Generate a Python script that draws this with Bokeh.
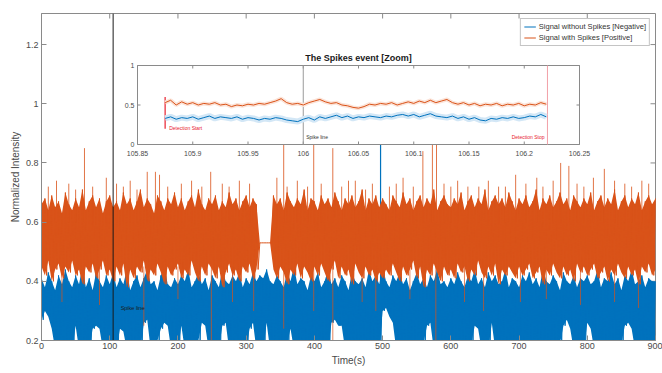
from bokeh.plotting import figure
from bokeh.models import Range1d, Legend, LegendItem, FixedTicker, PrintfTickFormatter
from bokeh.core.properties import value
from bokeh.embed import file_html
from bokeh.resources import INLINE

FONT = "Liberation Sans"
BLUE = "#0072BD"
ORANGE = "#D95319"
RED = "#E8202F"
AXC = "#8a8a8a"
TXC = "#4a4a4a"

# ---------------- main data (5 s bins: upper / lower envelope)
bin_s = 5
time_s = [i * bin_s for i in range(181)]

orange_hi = [
    0.66, 0.68, 0.64, 0.69, 0.65, 0.67, 0.63, 0.70, 0.66, 0.64, 0.68, 0.65, 0.71, 0.64, 0.67, 0.69, 0.65, 0.68, 0.63, 0.67,
    0.69, 0.65, 0.67, 0.64, 0.70, 0.66, 0.68, 0.64, 0.67, 0.71, 0.65, 0.68, 0.66, 0.63, 0.69, 0.67, 0.64, 0.68, 0.66, 0.70,
    0.65, 0.68, 0.64, 0.67, 0.69, 0.65, 0.71, 0.66, 0.64, 0.68, 0.66, 0.69, 0.64, 0.67, 0.65, 0.70, 0.66, 0.68, 0.64, 0.67,
    0.69, 0.65, 0.68, 0.66, 0.53, 0.53, 0.53, 0.53, 0.69, 0.66, 0.68, 0.64, 0.70, 0.67, 0.65, 0.68, 0.66, 0.71, 0.64, 0.68,
    0.67, 0.64, 0.69, 0.66, 0.68, 0.65, 0.70, 0.67, 0.64, 0.68, 0.66, 0.69, 0.65, 0.67, 0.71, 0.64, 0.68, 0.66, 0.69, 0.65,
    0.68, 0.66, 0.64, 0.69, 0.67, 0.65, 0.70, 0.66, 0.68, 0.64, 0.67, 0.69, 0.65, 0.68, 0.66, 0.71, 0.64, 0.67, 0.69, 0.66,
    0.65, 0.68, 0.66, 0.70, 0.64, 0.67, 0.69, 0.65, 0.68, 0.66, 0.71, 0.64, 0.67, 0.69, 0.66, 0.68, 0.65, 0.70, 0.67, 0.64,
    0.68, 0.66, 0.69, 0.65, 0.67, 0.71, 0.64, 0.68, 0.66, 0.69, 0.65, 0.67, 0.70, 0.66, 0.68, 0.64, 0.69, 0.67, 0.65, 0.68,
    0.66, 0.70, 0.64, 0.67, 0.69, 0.65, 0.68, 0.66, 0.71, 0.64, 0.67, 0.69, 0.65, 0.68, 0.66, 0.70, 0.64, 0.67, 0.69, 0.66,
    0.68,
]
orange_lo = [
    0.45, 0.42, 0.47, 0.40, 0.44, 0.46, 0.41, 0.45, 0.43, 0.47, 0.42, 0.44, 0.39, 0.45, 0.43, 0.46, 0.41, 0.44, 0.47, 0.42,
    0.44, 0.40, 0.45, 0.42, 0.46, 0.38, 0.44, 0.41, 0.45, 0.43, 0.47, 0.40, 0.44, 0.42, 0.46, 0.43, 0.39, 0.45, 0.42, 0.44,
    0.46, 0.41, 0.44, 0.42, 0.47, 0.43, 0.40, 0.45, 0.42, 0.46, 0.44, 0.41, 0.45, 0.38, 0.43, 0.46, 0.42, 0.44, 0.40, 0.45,
    0.43, 0.46, 0.41, 0.44, 0.53, 0.53, 0.53, 0.53, 0.44, 0.41, 0.45, 0.43, 0.39, 0.44, 0.42, 0.46, 0.41, 0.45, 0.43, 0.40,
    0.45, 0.42, 0.46, 0.43, 0.40, 0.44, 0.47, 0.41, 0.45, 0.42, 0.44, 0.39, 0.46, 0.43, 0.41, 0.45, 0.42, 0.44, 0.40, 0.43,
    0.41, 0.44, 0.42, 0.46, 0.43, 0.40, 0.45, 0.42, 0.44, 0.47, 0.41, 0.45, 0.38, 0.44, 0.42, 0.46, 0.43, 0.40, 0.45, 0.42,
    0.44, 0.41, 0.46, 0.43, 0.45, 0.40, 0.44, 0.42, 0.47, 0.43, 0.41, 0.45, 0.42, 0.46, 0.39, 0.44, 0.42, 0.45, 0.43, 0.41,
    0.45, 0.42, 0.44, 0.46, 0.41, 0.43, 0.45, 0.39, 0.44, 0.42, 0.46, 0.43, 0.41, 0.45, 0.42, 0.44, 0.40, 0.46, 0.43, 0.45,
    0.42, 0.44, 0.46, 0.41, 0.43, 0.45, 0.40, 0.44, 0.42, 0.46, 0.43, 0.41, 0.45, 0.42, 0.44, 0.39, 0.45, 0.43, 0.46, 0.42,
    0.44,
]
blue_hi = [
    0.41, 0.38, 0.43, 0.40, 0.37, 0.42, 0.39, 0.44, 0.40, 0.38, 0.42, 0.39, 0.45, 0.38, 0.41, 0.37, 0.43, 0.40, 0.38, 0.42,
    0.39, 0.43, 0.38, 0.41, 0.39, 0.44, 0.37, 0.40, 0.42, 0.38, 0.41, 0.44, 0.39, 0.40, 0.37, 0.42, 0.45, 0.39, 0.38, 0.41,
    0.39, 0.42, 0.40, 0.44, 0.38, 0.40, 0.43, 0.39, 0.41, 0.37, 0.42, 0.40, 0.38, 0.44, 0.40, 0.39, 0.42, 0.40, 0.43, 0.38,
    0.41, 0.39, 0.43, 0.40, 0.42, 0.41, 0.44, 0.40, 0.39, 0.42, 0.40, 0.38, 0.43, 0.40, 0.45, 0.39, 0.41, 0.40, 0.37, 0.42,
    0.40, 0.43, 0.38, 0.40, 0.44, 0.39, 0.41, 0.38, 0.42, 0.40, 0.37, 0.43, 0.40, 0.39, 0.41, 0.38, 0.44, 0.40, 0.42, 0.39,
    0.45, 0.40, 0.38, 0.42, 0.40, 0.43, 0.39, 0.41, 0.37, 0.40, 0.43, 0.39, 0.41, 0.38, 0.42, 0.40, 0.44, 0.39, 0.40, 0.38,
    0.41, 0.39, 0.43, 0.40, 0.38, 0.42, 0.40, 0.44, 0.39, 0.41, 0.38, 0.43, 0.40, 0.42, 0.39, 0.40, 0.44, 0.38, 0.41, 0.40,
    0.38, 0.42, 0.40, 0.43, 0.39, 0.41, 0.38, 0.44, 0.40, 0.39, 0.42, 0.40, 0.37, 0.43, 0.40, 0.39, 0.42, 0.38, 0.41, 0.40,
    0.42, 0.39, 0.40, 0.44, 0.38, 0.41, 0.40, 0.43, 0.39, 0.41, 0.37, 0.42, 0.40, 0.44, 0.39, 0.40, 0.42, 0.38, 0.41, 0.40,
    0.40,
]
blue_lo = [
    0.27, 0.30, 0.28, 0.24, 0.17, 0.19, 0.17, 0.17, 0.20, 0.17, 0.25, 0.17, 0.17, 0.19, 0.17, 0.24, 0.25, 0.24, 0.17, 0.17,
    0.20, 0.17, 0.17, 0.24, 0.23, 0.17, 0.17, 0.19, 0.17, 0.17, 0.26, 0.27, 0.17, 0.17, 0.20, 0.24, 0.26, 0.25, 0.17, 0.17,
    0.17, 0.25, 0.17, 0.19, 0.17, 0.17, 0.20, 0.26, 0.25, 0.17, 0.17, 0.19, 0.17, 0.25, 0.26, 0.17, 0.17, 0.20, 0.17, 0.17,
    0.17, 0.24, 0.26, 0.17, 0.19, 0.17, 0.26, 0.17, 0.17, 0.20, 0.17, 0.17, 0.19, 0.24, 0.17, 0.17, 0.20, 0.17, 0.17, 0.19,
    0.17, 0.17, 0.20, 0.17, 0.17, 0.26, 0.27, 0.25, 0.25, 0.17, 0.17, 0.19, 0.17, 0.17, 0.20, 0.17, 0.17, 0.19, 0.17, 0.17,
    0.30, 0.31, 0.28, 0.26, 0.17, 0.17, 0.19, 0.17, 0.17, 0.20, 0.17, 0.17, 0.19, 0.25, 0.26, 0.17, 0.17, 0.20, 0.17, 0.17,
    0.19, 0.17, 0.17, 0.20, 0.17, 0.17, 0.19, 0.25, 0.24, 0.17, 0.17, 0.17, 0.26, 0.17, 0.19, 0.17, 0.17, 0.20, 0.17, 0.17,
    0.19, 0.17, 0.17, 0.20, 0.17, 0.17, 0.19, 0.17, 0.17, 0.20, 0.17, 0.17, 0.19, 0.25, 0.27, 0.24, 0.17, 0.17, 0.20, 0.17,
    0.26, 0.24, 0.17, 0.17, 0.19, 0.17, 0.17, 0.20, 0.17, 0.17, 0.19, 0.25, 0.26, 0.24, 0.17, 0.17, 0.20, 0.17, 0.17, 0.19,
    0.17,
]

# isolated spikes (time, extreme value)
orange_up_t = [10, 22, 40, 50, 63, 75, 95, 110, 120, 130, 140, 155, 167, 173, 185, 205, 220, 235, 248, 265, 275, 290,
               305, 345, 355, 360, 375, 390, 399, 410, 427, 440, 450, 460, 475, 485, 510, 520, 530, 545, 559, 573,
               579, 590, 600, 610, 625, 641, 655, 670, 680, 695, 710, 726, 735, 750, 761, 773, 785, 795, 809, 825,
               840, 855, 865, 880, 890]
orange_up_v = [0.72, 0.74, 0.73, 0.71, 0.85, 0.72, 0.75, 0.73, 0.72, 0.74, 0.71, 0.77, 0.77, 0.76, 0.72, 0.73, 0.74, 0.72, 0.77, 0.73, 0.72, 0.74,
               0.73, 0.75, 0.95, 0.72, 0.74, 0.72, 0.95, 0.73, 0.85, 0.72, 0.74, 0.74, 0.71, 0.73, 0.72, 0.73, 0.75, 0.72, 0.84, 0.95,
               0.95, 0.73, 0.72, 0.74, 0.72, 0.72, 0.74, 0.72, 0.72, 0.76, 0.73, 0.75, 0.72, 0.74, 0.80, 0.79, 0.73, 0.72, 0.75, 0.78,
               0.74, 0.73, 0.72, 0.74, 0.73]
orange_dn_t = [30, 85, 150, 200, 249, 280, 311, 355, 399, 427, 470, 490, 540, 578, 620, 648, 702, 740, 790, 840, 875]
orange_dn_v = [0.33, 0.32, 0.25, 0.34, 0.20, 0.33, 0.30, 0.24, 0.30, 0.20, 0.33, 0.30, 0.34, 0.18, 0.33, 0.30, 0.33, 0.34, 0.32, 0.33, 0.31]
blue_up_t = [497]
blue_up_v = [0.95]
spike_time = 105

x_ticks = [0, 100, 200, 300, 400, 500, 600, 700, 800, 900]
y_ticks = [0.2, 0.4, 0.6, 0.8, 1.0, 1.2]

# ---------------- inset (zoom) data
zoom_t0, zoom_dt = 105.875, 0.005
zoom_red = [
    0.53, 0.56, 0.50, 0.54, 0.51, 0.53, 0.50, 0.52, 0.51, 0.53,
    0.50, 0.51, 0.48, 0.50, 0.49, 0.51, 0.50, 0.52, 0.51, 0.53,
    0.55, 0.58, 0.53, 0.51, 0.52, 0.50, 0.53, 0.55, 0.57, 0.54,
    0.52, 0.53, 0.50, 0.49, 0.47, 0.46, 0.48, 0.51, 0.50, 0.52,
    0.51, 0.53, 0.50, 0.52, 0.54, 0.52, 0.55, 0.53, 0.56, 0.53,
    0.55, 0.57, 0.53, 0.51, 0.53, 0.50, 0.52, 0.49, 0.51, 0.50,
    0.52, 0.49, 0.51, 0.50, 0.52, 0.49, 0.51, 0.50, 0.53, 0.51,
]
zoom_blue = [
    0.33, 0.35, 0.32, 0.34, 0.33, 0.35, 0.32, 0.34, 0.36, 0.33,
    0.35, 0.34, 0.33, 0.35, 0.32, 0.34, 0.33, 0.31, 0.33, 0.32,
    0.34, 0.33, 0.31, 0.30, 0.29, 0.32, 0.34, 0.31, 0.35, 0.33,
    0.35, 0.37, 0.34, 0.36, 0.33, 0.35, 0.34, 0.36, 0.35, 0.34,
    0.36, 0.35, 0.37, 0.38, 0.36, 0.38, 0.35, 0.37, 0.39, 0.36,
    0.35, 0.34, 0.36, 0.33, 0.35, 0.32, 0.34, 0.31, 0.30, 0.33,
    0.32, 0.34, 0.33, 0.35, 0.33, 0.34, 0.36, 0.35, 0.38, 0.35,
]
zoom_t = [round(zoom_t0 + i * zoom_dt, 4) for i in range(len(zoom_red))]
zoom_xlim = (105.85, 106.25)
zoom_ylim = (0.0, 1.0)
zoom_xticks = [105.85, 105.9, 105.95, 106.0, 106.05, 106.1, 106.15, 106.2, 106.25]
zoom_xlabels = ["105.85", "105.9", "105.95", "106", "106.05", "106.1", "106.15", "106.2", "106.25"]
zoom_yticks = [0.0, 0.5, 1.0]
zoom_ylabels = ["0", "0.5", "1"]
det_start, det_stop, spike_line = 105.875, 106.221, 106.0

# ---------------- layout constants (pixels)
W, H = 662, 373
B_L, B_R, B_T, B_B = 41, 7, 13, 33
FW = W - B_L - B_R
FH = H - B_T - B_B
Y0, Y1 = 0.2, 1.305
# inset box position inside the frame (pixels from frame left / top)
IN_L, IN_R, IN_T, IN_B = 96, 538, 52, 131

p = figure(width=W, height=H, x_range=Range1d(0, 900), y_range=Range1d(Y0, Y1),
           output_backend="svg", toolbar_location=None,
           min_border_left=B_L, min_border_right=B_R, min_border_top=B_T, min_border_bottom=B_B)
p.xgrid.visible = False
p.ygrid.visible = False
p.outline_line_color = AXC
p.background_fill_color = "white"
p.border_fill_color = "white"

for ax in (p.xaxis[0], p.yaxis[0]):
    ax.axis_line_color = AXC
    ax.major_tick_line_color = AXC
    ax.major_tick_in = 5
    ax.major_tick_out = 0
    ax.minor_tick_line_color = None
    ax.major_label_text_font = FONT
    ax.major_label_text_font_size = "9px"
    ax.major_label_text_color = TXC
    ax.axis_label_text_font = FONT
    ax.axis_label_text_font_size = "10px"
    ax.axis_label_text_font_style = "normal"
    ax.axis_label_text_color = TXC
p.xaxis.ticker = FixedTicker(ticks=x_ticks)
p.yaxis.ticker = FixedTicker(ticks=y_ticks)
p.yaxis.formatter = PrintfTickFormatter(format="%g")
p.xaxis.axis_label = "Time(s)"
p.yaxis.axis_label = "Normalized Intensity"
p.xaxis.major_label_standoff = 2
p.xaxis.axis_label_standoff = 3
p.yaxis.major_label_standoff = 3
p.yaxis.axis_label_standoff = 2

# top / right tick marks (MATLAB box)
tlen_y = 5 * (Y1 - Y0) / FH
tlen_x = 5 * 900 / FW
p.segment(x0=x_ticks, x1=x_ticks, y0=[Y1] * len(x_ticks), y1=[Y1 - tlen_y] * len(x_ticks), line_color=AXC, line_width=1)
p.segment(x0=[900] * len(y_ticks), x1=[900 - tlen_x] * len(y_ticks), y0=y_ticks, y1=y_ticks, line_color=AXC, line_width=1)

def zigzag(t, hi, lo):
    xs, ys = [], []
    for ti, h, l in zip(t, hi, lo):
        xs += [ti, ti + bin_s / 2]
        ys += [h, l]
    return xs, ys

bx, by = zigzag(time_s, blue_hi, blue_lo)
ox, oy = zigzag(time_s, orange_hi, orange_lo)

p.varea(x=time_s, y1=blue_lo, y2=blue_hi, fill_color=BLUE)
r_blue = p.line(bx, by, line_color=BLUE, line_width=1)
p.segment(x0=blue_up_t, x1=blue_up_t, y0=[0.4] * len(blue_up_t), y1=blue_up_v, line_color=BLUE, line_width=1.2)
p.varea(x=time_s, y1=orange_lo, y2=orange_hi, fill_color=ORANGE)
r_orange = p.line(ox, oy, line_color=ORANGE, line_width=1)
p.segment(x0=orange_up_t, x1=orange_up_t, y0=[0.6] * len(orange_up_t), y1=orange_up_v, line_color=ORANGE, line_width=1, line_alpha=0.8)
p.segment(x0=orange_dn_t, x1=orange_dn_t, y0=[0.45] * len(orange_dn_t), y1=orange_dn_v, line_color=ORANGE, line_width=1, line_alpha=0.7)

p.segment(x0=[spike_time], x1=[spike_time], y0=[Y0], y1=[Y1], line_color="#1a1a1a", line_width=1)
p.text(x=[spike_time + 11], y=[0.311], text=["Spike line"], text_font=value(FONT), text_font_size="5.5px",
       text_color="#1a1a1a", text_align="left", text_baseline="middle")

# ---------------- inset via extra ranges mapped to the inset box
sx = (zoom_xlim[1] - zoom_xlim[0]) / (IN_R - IN_L)
sy = (zoom_ylim[1] - zoom_ylim[0]) / (IN_B - IN_T)
p.extra_x_ranges = {"ix": Range1d(zoom_xlim[0] - IN_L * sx, zoom_xlim[1] + (FW - IN_R) * sx)}
p.extra_y_ranges = {"iy": Range1d(zoom_ylim[0] - (FH - IN_B) * sy, zoom_ylim[1] + IN_T * sy)}
IK = dict(x_range_name="ix", y_range_name="iy")

p.quad(left=[zoom_xlim[0]], right=[zoom_xlim[1]], bottom=[zoom_ylim[0]], top=[zoom_ylim[1]],
       fill_color="white", line_color=AXC, line_width=1, **IK)
itl_y = 3 * sy
itl_x = 3 * sx
n = len(zoom_xticks)
p.segment(x0=zoom_xticks, x1=zoom_xticks, y0=[0] * n, y1=[itl_y] * n, line_color=AXC, **IK)
p.segment(x0=zoom_xticks, x1=zoom_xticks, y0=[1] * n, y1=[1 - itl_y] * n, line_color=AXC, **IK)
m = len(zoom_yticks)
p.segment(x0=[zoom_xlim[0]] * m, x1=[zoom_xlim[0] + itl_x] * m, y0=zoom_yticks, y1=zoom_yticks, line_color=AXC, **IK)
p.segment(x0=[zoom_xlim[1]] * m, x1=[zoom_xlim[1] - itl_x] * m, y0=zoom_yticks, y1=zoom_yticks, line_color=AXC, **IK)
p.text(x=zoom_xticks, y=[-9 * sy] * n, text=zoom_xlabels, text_font=value(FONT), text_font_size="7px",
       text_color=TXC, text_align="center", text_baseline="middle", **IK)
p.text(x=[zoom_xlim[0] - 3 * sx] * m, y=zoom_yticks, text=zoom_ylabels, text_font=value(FONT), text_font_size="7px",
       text_color=TXC, text_align="right", text_baseline="middle", **IK)
p.text(x=[(zoom_xlim[0] + zoom_xlim[1]) / 2], y=[1 + 8 * sy], text=["The Spikes event [Zoom]"], text_font=value(FONT),
       text_font_size="9px", text_font_style="bold", text_color="#1a1a1a", text_align="center", text_baseline="middle", **IK)

# event lines
p.segment(x0=[spike_line], x1=[spike_line], y0=[0], y1=[1], line_color="#9a9a9a", line_width=1, **IK)
p.segment(x0=[det_stop], x1=[det_stop], y0=[0], y1=[1], line_color="#f2a0a8", line_width=1, **IK)
p.segment(x0=[det_start], x1=[det_start], y0=[0.2], y1=[0.6], line_color=RED, line_width=1.2, **IK)

# zoom signals with light halo
p.line(zoom_t, zoom_blue, line_color="#d3e7f6", line_width=6, **IK)
p.line(zoom_t, zoom_red, line_color="#fbe3d8", line_width=4, **IK)
p.line(zoom_t, zoom_blue, line_color=BLUE, line_width=1, **IK)
p.line(zoom_t, zoom_red, line_color=ORANGE, line_width=1, **IK)

p.text(x=[det_start + 4 * sx], y=[0.215], text=["Detection Start"], text_font=value(FONT), text_font_size="5px",
       text_color=RED, text_align="left", text_baseline="middle", **IK)
p.text(x=[spike_line + 3 * sx], y=[0.09], text=["Spike line"], text_font=value(FONT), text_font_size="5px",
       text_color="#333333", text_align="left", text_baseline="middle", **IK)
p.text(x=[det_stop - 3 * sx], y=[0.09], text=["Detection Stop"], text_font=value(FONT), text_font_size="5px",
       text_color=RED, text_align="right", text_baseline="middle", **IK)

legend = Legend(items=[LegendItem(label="Signal without Spikes [Negative]", renderers=[r_blue]),
                       LegendItem(label="Signal with Spikes [Positive]", renderers=[r_orange])],
                location="top_right", margin=5, padding=3, spacing=2, label_standoff=3,
                glyph_width=12, glyph_height=9, label_height=9,
                label_text_font=FONT, label_text_font_size="7.5px", label_text_color="#333333",
                border_line_color=AXC, background_fill_color="white", background_fill_alpha=1)
p.add_layout(legend)

open("out.html", "w").write(file_html(p, INLINE))
